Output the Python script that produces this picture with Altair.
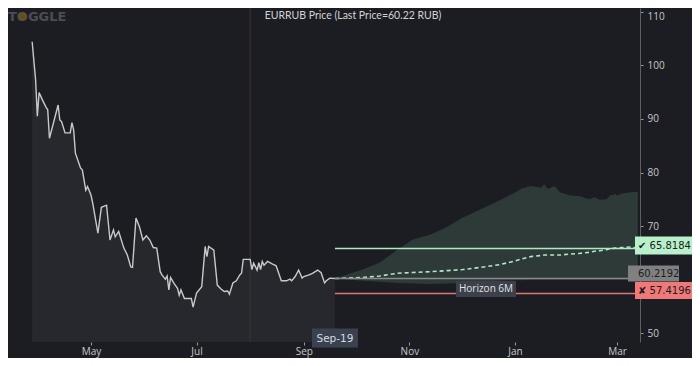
import altair as alt
import pandas as pd

# ---------------- data ----------------
hist_dates = [
    "2022-03-28", "2022-03-30", "2022-03-31", "2022-04-01", "2022-04-03", "2022-04-05",
    "2022-04-06", "2022-04-07", "2022-04-12", "2022-04-13", "2022-04-14", "2022-04-16",
    "2022-04-19", "2022-04-20", "2022-04-21", "2022-04-22", "2022-04-25", "2022-04-26",
    "2022-04-28", "2022-04-29", "2022-05-01", "2022-05-02", "2022-05-05", "2022-05-07",
    "2022-05-10", "2022-05-12", "2022-05-14", "2022-05-15", "2022-05-17", "2022-05-20",
    "2022-05-22", "2022-05-24", "2022-05-25", "2022-05-27", "2022-05-29", "2022-05-31",
    "2022-06-02", "2022-06-04", "2022-06-06", "2022-06-08", "2022-06-10", "2022-06-11",
    "2022-06-13", "2022-06-14", "2022-06-15", "2022-06-16", "2022-06-18", "2022-06-20",
    "2022-06-21", "2022-06-22", "2022-06-24", "2022-06-28", "2022-06-29", "2022-07-01",
    "2022-07-04", "2022-07-06", "2022-07-07", "2022-07-08", "2022-07-11", "2022-07-13",
    "2022-07-15", "2022-07-17", "2022-07-19", "2022-07-20", "2022-07-22", "2022-07-24",
    "2022-07-26", "2022-07-27", "2022-07-28", "2022-08-01", "2022-08-02", "2022-08-03",
    "2022-08-05", "2022-08-06", "2022-08-07", "2022-08-08", "2022-08-09", "2022-08-11",
    "2022-08-14", "2022-08-16", "2022-08-19", "2022-08-22", "2022-08-24", "2022-08-25",
    "2022-08-27", "2022-08-29", "2022-08-31", "2022-09-01", "2022-09-04", "2022-09-06",
    "2022-09-09", "2022-09-11", "2022-09-13", "2022-09-14", "2022-09-16", "2022-09-19",
]
hist_values = [
    104.4, 97.3, 90.5, 94.9, 93.5, 92.2,
    91.7, 86.4, 92.6, 89.8, 89.5, 87.4,
    87.4, 89.3, 87.9, 83.6, 80.8, 80.5,
    76.7, 77.4, 75.8, 74.3, 68.7, 73.5,
    73.9, 67.4, 69.3, 68.0, 69.0, 65.9,
    64.6, 62.4, 62.3, 71.5, 69.9, 67.4,
    68.2, 67.4, 66.0, 65.9, 61.5, 60.9,
    60.1, 60.7, 58.1, 60.4, 59.3, 58.4,
    57.1, 58.1, 56.5, 56.5, 54.9, 57.5,
    58.7, 66.2, 64.3, 66.2, 65.5, 59.0,
    58.3, 57.8, 57.9, 57.3, 59.4, 59.8,
    60.9, 61.2, 63.8, 63.8, 61.9, 63.1,
    61.8, 63.2, 61.9, 63.4, 62.7, 63.4,
    62.9, 62.6, 59.8, 59.8, 60.1, 59.8,
    60.6, 61.8, 60.3, 60.6, 60.9, 61.2,
    61.8, 61.3, 59.4, 59.8, 60.3, 60.22,
]

fc_dates = [
    "2022-09-19", "2022-10-05", "2022-10-15", "2022-10-25", "2022-11-03", "2022-11-13",
    "2022-11-23", "2022-12-02", "2022-12-12", "2022-12-23", "2022-12-31", "2023-01-05",
    "2023-01-10", "2023-01-16", "2023-01-18", "2023-01-20", "2023-01-24", "2023-01-27",
    "2023-02-02", "2023-02-07", "2023-02-13", "2023-02-16", "2023-02-19", "2023-02-23",
    "2023-02-25", "2023-02-28", "2023-03-01", "2023-03-04", "2023-03-09", "2023-03-13",
]
fc_upper = [
    60.22, 61.9, 63.2, 65.6, 67.5, 68.4,
    69.9, 71.6, 73.1, 74.8, 76.1, 77.0,
    77.5, 77.2, 77.8, 76.9, 77.5, 76.3,
    75.7, 75.6, 75.0, 75.4, 74.9, 75.0,
    75.7, 76.0, 75.7, 76.1, 76.3, 76.4,
]
fc_lower = [
    60.22, 59.8, 59.6, 59.4, 59.3, 59.2,
    59.3, 59.4, 59.6, 59.8, 59.9, 59.9,
    60.0, 60.0, 60.0, 60.0, 60.0, 60.0,
    60.0, 60.0, 60.0, 60.0, 60.0, 60.0,
    60.0, 60.0, 60.0, 60.0, 60.0, 60.0,
]
fc_median = [
    60.22, 60.4, 60.7, 61.2, 61.35, 61.5,
    61.7, 61.9, 62.3, 62.8, 63.4, 63.9,
    64.3, 64.5, 64.6, 64.6, 64.6, 64.6,
    64.8, 64.9, 65.1, 65.3, 65.4, 65.6,
    65.8, 65.9, 65.9, 66.0, 66.1, 65.9,
]

last_price = 60.22
target_up = 65.8184
current_level = 60.2192
target_down = 57.4196
forecast_start = "2022-09-19"
marker_date = "2022-08-01"
horizon_text = "Horizon 6M"
x_tick_dates = ["2022-05-01", "2022-07-01", "2022-09-01", "2022-11-01", "2023-01-01", "2023-03-01"]
# the 60 tick is hidden behind the last-price tag in the reference
y_ticks = [50, 70, 80, 90, 100, 110]

# ---------------- layout (plot origin sits at page (8, 8)) ----------------
W, H = 632, 334
BG = "#1b1d22"
Y_MIN, Y_MAX = 48.38, 110.69


def ms(s, hours=0):
    return int((pd.Timestamp(s, tz="UTC") + pd.Timedelta(hours=hours)).value // 10**6)


xscale = alt.Scale(type="utc", domain=[ms("2022-03-14", 1), ms("2023-03-14", 7)], nice=False)
yscale = alt.Scale(domain=[Y_MIN, Y_MAX], zero=False, nice=False)

# identical axis definitions are given to every layer so they merge cleanly
x_axis = alt.Axis(
    values=[ms(s) for s in x_tick_dates],
    labelExpr="utcFormat(datum.value, '%b')",
    labelColor="#c8c8c8", labelFont="Open Sans", labelFontSize=10,
    tickColor="#9a9a9a", tickSize=3, domain=False, grid=False,
    labelPadding=1, title=None,
)
y_axis = alt.Axis(
    orient="right", values=y_ticks, labelColor="#c8c8c8", labelFont="Open Sans",
    labelFontSize=10, tickColor="#9a9a9a", tickSize=3, domainColor="#5c5f66",
    grid=False, labelPadding=4, labelFlush=5, title=None,
)


def X(field="date"):
    return alt.X(f"{field}:T", scale=xscale, axis=x_axis)


def Y(field):
    return alt.Y(f"{field}:Q", scale=yscale, axis=y_axis)


hist_df = pd.DataFrame({"date": hist_dates, "value": hist_values})
fc_df = pd.DataFrame({"date": fc_dates, "upper": fc_upper, "lower": fc_lower, "median": fc_median})

hist_area = alt.Chart(hist_df).mark_area(color="#26282d", clip=True).encode(
    x=X(), y=Y("value"), y2=alt.datum(Y_MIN),
)

cone = alt.Chart(fc_df).mark_area(color="#2e3a38", clip=True).encode(
    x=X(), y=Y("upper"), y2="lower:Q",
)

vline = alt.Chart(pd.DataFrame({"date": [marker_date]})).mark_rule(
    color="#3d3532", strokeWidth=1, clip=True
).encode(x=X(), y=alt.datum(Y_MAX), y2=alt.datum(Y_MIN))

hist_line = alt.Chart(hist_df).mark_line(color="#c9c9c9", strokeWidth=1.4).encode(
    x=X(), y=Y("value"),
)

median_line = alt.Chart(fc_df).mark_line(
    color="#b2e6c6", strokeWidth=1.6, strokeDash=[4, 3]
).encode(x=X(), y=Y("median"))

layers = [hist_area, cone, vline, hist_line, median_line]

# horizontal level lines and their value boxes
level_specs = [
    # level, text, line colour, box colour, box width, box height, box x-centre, text x, dy
    (current_level, f"{current_level:.4f}", "#8a8a8a", "#808080", 51, 16, 645.5, 630, -5),
    (target_up, f"\u2714 {target_up:.4f}", "#aee9c3", "#b8f0cc", 57, 18, 655.5, 630, -3),
    (target_down, f"\u2718 {target_down:.4f}", "#e57373", "#f07878", 57, 17, 655.5, 630, -3),
]
for level, text, lcol, bcol, bw, bh, bx, tx, dy in level_specs:
    ldf = pd.DataFrame({"date": [forecast_start], "level": [level], "text": [text]})
    base = alt.Chart(ldf)
    layers.append(
        base.mark_rule(color=lcol, strokeWidth=1.5).encode(
            x=X(), x2=alt.value(W), y=Y("level"),
        )
    )
    r = bh / bw
    layers.append(
        base.mark_point(
            shape=f"M-1,-{r:.4f}H1V{r:.4f}H-1Z", size=bw * bw, filled=True,
            opacity=1, color=bcol, strokeWidth=0, yOffset=dy,
        ).encode(x=alt.value(bx), y=Y("level"))
    )
    layers.append(
        base.mark_text(
            align="left", baseline="middle", font="DejaVu Sans", fontSize=10,
            color="#1b1d22", dy=dy,
        ).encode(x=alt.value(tx), y=Y("level"), text="text:N")
    )

# "Horizon 6M" tag
hdf = pd.DataFrame({"text": [horizon_text]})
layers.append(
    alt.Chart(hdf).mark_point(
        shape="M-1,-0.2667H1V0.2667H-1Z", size=60 * 60, filled=True, opacity=1,
        color="#3b404a", strokeWidth=0,
    ).encode(x=alt.value(478), y=alt.value(281))
)
layers.append(
    alt.Chart(hdf).mark_text(
        align="center", baseline="middle", font="Open Sans", fontSize=10, color="#e4e4e4"
    ).encode(x=alt.value(478), y=alt.value(281), text="text:N")
)

# "Sep-19" date tag at the forecast start
sdf = pd.DataFrame({"date": [forecast_start], "text": ["Sep-19"]})
layers.append(
    alt.Chart(sdf).mark_point(
        shape="M-1,-0.413H1V0.413H-1Z", size=46 * 46, filled=True, opacity=1,
        color="#3a4250", strokeWidth=0,
    ).encode(x=X(), y=alt.value(330))
)
layers.append(
    alt.Chart(sdf).mark_text(
        align="center", baseline="middle", font="DejaVu Sans", fontSize=10.5, color="#d6dbe3"
    ).encode(x=X(), y=alt.value(330.5), text="text:N")
)

# title and logo
tdf = pd.DataFrame({"text": [f"EURRUB Price (Last Price={last_price:.2f} RUB)"]})
layers.append(
    alt.Chart(tdf).mark_text(
        align="center", baseline="middle", font="Lato", fontSize=10.5, color="#d4d4d4"
    ).encode(x=alt.value(345), y=alt.value(8), text="text:N")
)
logo_df = pd.DataFrame({"text": ["TOGGLE"]})
layers.append(
    alt.Chart(logo_df).mark_text(
        align="left", baseline="middle", font="DejaVu Sans", fontWeight="bold",
        fontSize=13, color="#4a4d52",
    ).encode(x=alt.value(0), y=alt.value(8.5), text="text:N")
)
layers.append(
    alt.Chart(logo_df).mark_point(
        shape="circle", size=64, filled=True, opacity=0.9, color="#6b5220", strokeWidth=0
    ).encode(x=alt.value(14.4), y=alt.value(8.5))
)

chart = alt.layer(*layers).properties(
    width=W, height=H,
    background=BG,
    padding={"left": 0, "top": 0, "right": 52, "bottom": 16},
    autosize=alt.AutoSizeParams(type="none"),
    usermeta={"embedOptions": {"defaultStyle": "body{background:#1b1d22;overflow:hidden}"}},
).configure_view(stroke=None)

chart.save("out.html", embed_options={"renderer": "svg", "actions": False})
